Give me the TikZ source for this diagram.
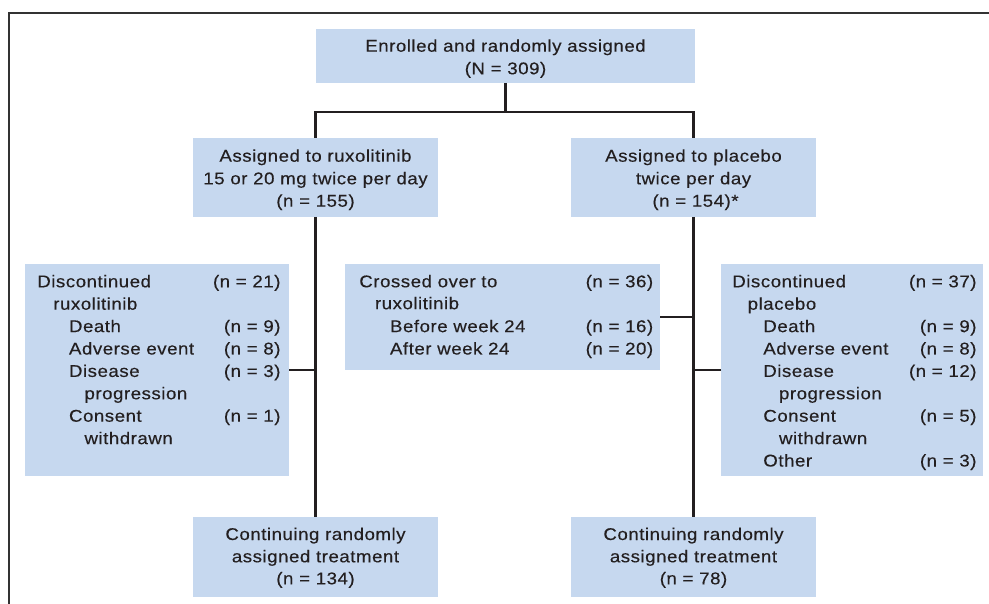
\documentclass[tikz,border=0pt]{standalone}
\usepackage{fontspec}
\setmainfont{Liberation Sans}[FakeStretch=1.1, LetterSpace=3, FakeBold=0.3]
\definecolor{boxblue}{RGB}{198,216,239}
\definecolor{ink}{RGB}{35,31,32}
\definecolor{framegray}{RGB}{50,50,50}
\tikzset{
  box/.style={fill=boxblue, draw=none, inner sep=0pt, outer sep=0pt},
  txtl/.style={inner sep=0pt, outer sep=0pt, text=ink, anchor=base west},
  txtr/.style={inner sep=0pt, outer sep=0pt, text=ink, anchor=base east},
  txtc/.style={inner sep=0pt, outer sep=0pt, text=ink, anchor=base},
  conn/.style={draw=ink, line width=2.4pt},
  frameline/.style={draw=framegray, line width=1.6pt},
}
\begin{document}
\begin{tikzpicture}[x=1pt, y=-1pt, every node/.style={font=\fontsize{17}{20}\selectfont}]
\useasboundingbox (0,0) rectangle (989,604);
% frame
\draw[frameline] (989,13) -- (9,13) -- (9,604);
% boxes
\node[box, minimum width=379pt, minimum height=54pt] (top) at (505.5,56) {};
\node[box, minimum width=245pt, minimum height=79pt] (rux) at (315.5,177.5) {};
\node[box, minimum width=245pt, minimum height=79pt] (pla) at (693.5,177.5) {};
\node[box, minimum width=264pt, minimum height=212pt] (disL) at (157,370) {};
\node[box, minimum width=315pt, minimum height=106pt] (cross) at (502.5,317) {};
\node[box, minimum width=262pt, minimum height=212pt] (disR) at (852,370) {};
\node[box, minimum width=245pt, minimum height=80pt] (contL) at (315.5,557) {};
\node[box, minimum width=245pt, minimum height=80pt] (contR) at (693.5,557) {};
% connectors
\coordinate (split) at (505.5,112);
\draw[conn] (top.south) -- (split);
\draw[conn] (rux.north) -- (rux.north |- split) -- (pla.north |- split) -- (pla.north);
\draw[conn] (rux.south) -- (contL.north);
\draw[conn] (pla.south) -- (contR.north);
\draw[conn] (disL.east) -- (rux.south |- disL.east);
\draw[conn] (cross.east) -- (pla.south |- cross.east);
\draw[conn] (disR.west) -- (pla.south |- disR.west);
% top box text
\node[txtc] (t1) at (505.5,51.7) {Enrolled and randomly assigned};
\node[txtc] (t2) at (505.5,74.3) {(N = 309)};
% ruxolitinib arm
\node[txtc] (r1) at (315.5,161.7) {Assigned to ruxolitinib};
\node[txtc] (r2) at (315.5,184.3) {15 or 20 mg twice per day};
\node[txtc] (r3) at (315.5,206.7) {(n = 155)};
% placebo arm
\node[txtc] (p1) at (693.5,161.7) {Assigned to placebo};
\node[txtc] (p2) at (693.5,184.3) {twice per day};
\node[txtc] (p3) at (695.5,206.7) {(n = 154)*};
% continuing boxes
\node[txtc] (cl1) at (315.5,540) {Continuing randomly};
\node[txtc] (cl2) at (315.5,562.3) {assigned treatment};
\node[txtc] (cl3) at (315.5,584.3) {(n = 134)};
\node[txtc] (cr1) at (693.5,540) {Continuing randomly};
\node[txtc] (cr2) at (693.5,562.3) {assigned treatment};
\node[txtc] (cr3) at (693.5,584.3) {(n = 78)};
% discontinued ruxolitinib
\node[txtl] (dl1) at (37.3,287.3) {Discontinued};
\node[txtr] (dl1n) at (280.5,287.3) {(n = 21)};
\node[txtl] (dl2) at (53.3,309.7) {ruxolitinib};
\node[txtl] (dl3) at (69,332.1) {Death};
\node[txtr] (dl3n) at (280.5,332.1) {(n = 9)};
\node[txtl] (dl4) at (69,354.5) {Adverse event};
\node[txtr] (dl4n) at (280.5,354.5) {(n = 8)};
\node[txtl] (dl5) at (69,376.9) {Disease};
\node[txtr] (dl5n) at (280.5,376.9) {(n = 3)};
\node[txtl] (dl6) at (84.5,399.3) {progression};
\node[txtl] (dl7) at (69,421.7) {Consent};
\node[txtr] (dl7n) at (280.5,421.7) {(n = 1)};
\node[txtl] (dl8) at (84.5,444.1) {withdrawn};
% crossed over
\node[txtl] (c1) at (359.3,287.3) {Crossed over to};
\node[txtr] (c1n) at (653.2,287.3) {(n = 36)};
\node[txtl] (c2) at (375,309.2) {ruxolitinib};
\node[txtl] (c3) at (390,332.1) {Before week 24};
\node[txtr] (c3n) at (653.2,332.1) {(n = 16)};
\node[txtl] (c4) at (390,354.5) {After week 24};
\node[txtr] (c4n) at (653.2,354.5) {(n = 20)};
% discontinued placebo
\node[txtl] (dr1) at (732.3,287.3) {Discontinued};
\node[txtr] (dr1n) at (976.5,287.3) {(n = 37)};
\node[txtl] (dr2) at (747.7,309.7) {placebo};
\node[txtl] (dr3) at (763.3,332.1) {Death};
\node[txtr] (dr3n) at (976.5,332.1) {(n = 9)};
\node[txtl] (dr4) at (763.3,354.5) {Adverse event};
\node[txtr] (dr4n) at (976.5,354.5) {(n = 8)};
\node[txtl] (dr5) at (763.3,376.9) {Disease};
\node[txtr] (dr5n) at (976.5,376.9) {(n = 12)};
\node[txtl] (dr6) at (779,399.3) {progression};
\node[txtl] (dr7) at (763.3,421.7) {Consent};
\node[txtr] (dr7n) at (976.5,421.7) {(n = 5)};
\node[txtl] (dr8) at (779,444.1) {withdrawn};
\node[txtl] (dr9) at (763.3,466.5) {Other};
\node[txtr] (dr9n) at (976.5,466.5) {(n = 3)};
\end{tikzpicture}
\end{document}
